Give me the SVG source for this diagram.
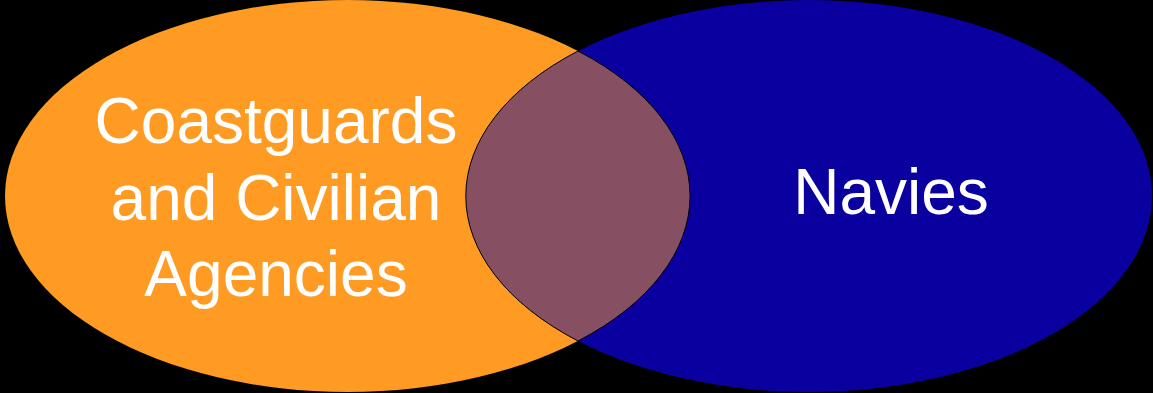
<svg xmlns="http://www.w3.org/2000/svg" width="1153" height="393" viewBox="0 0 1153 393">
  <style>
    .lbl { font-family: "Liberation Sans", Arial, sans-serif; font-size: 64px; fill: #ffffff; text-anchor: middle; }
  </style>
  <rect x="0" y="0" width="1153" height="393" fill="#000000"/>
  <g id="coastguards">
    <ellipse cx="347.5" cy="196" rx="342.5" ry="196" fill="#FF9A22"/>
  </g>
  <g id="navies">
    <ellipse cx="809" cy="196" rx="343" ry="196" fill="#0A009F"/>
  </g>
  <g id="overlap">
    <path d="M578,51 A342.5,196 0 0 1 578,341 A343,196 0 0 1 578,51 Z" fill="#875062" stroke="#000000" stroke-width="1"/>
  </g>
  <g id="labels">
    <text class="lbl" x="276" y="143">Coastguards</text>
    <text class="lbl" x="276" y="220">and Civilian</text>
    <text class="lbl" x="276" y="296">Agencies</text>
    <text class="lbl" x="891" y="214">Navies</text>
  </g>
</svg>
